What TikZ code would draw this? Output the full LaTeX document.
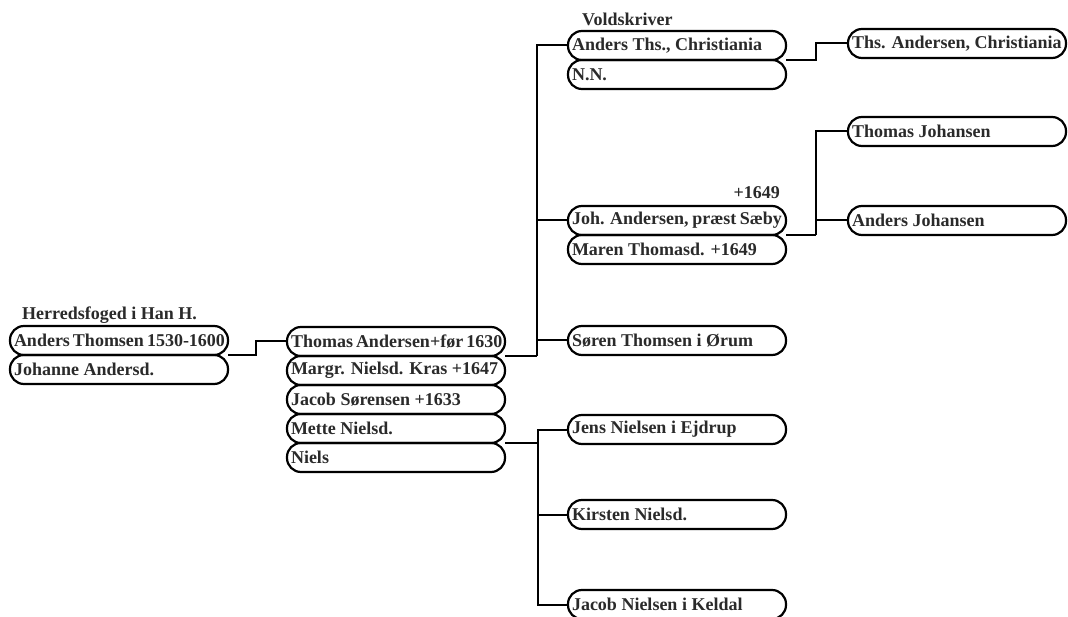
\documentclass[tikz,border=0pt]{standalone}
\usepackage{fontspec}
\setmainfont{Liberation Serif}
\usepackage{tikz}
\usetikzlibrary{positioning}
\definecolor{txtgray}{HTML}{2A2A2A}

\begin{document}
\begin{tikzpicture}[x=1pt, y=-1pt,
    person/.style={draw=black, line width=2.2pt, rounded corners=14pt, anchor=north west,
        minimum height=29pt, inner xsep=4pt, inner ysep=0pt, outer sep=0pt,
        execute at begin node={\hbox to 210pt\bgroup}, execute at end node={\hfil\egroup},
        text=txtgray, font=\fontsize{18}{20}\selectfont\bfseries},
    note/.style={inner sep=0pt, text=txtgray, font=\fontsize{18}{20}\selectfont\bfseries},
    link/.style={line width=2pt}]
    \useasboundingbox (0,0) rectangle (1068,617);

    % Coordinates
    \coordinate (g1) at (10,326);
    \coordinate (g2) at (287,327);
    \coordinate (c1) at (568,31);
    \coordinate (c2) at (568,206);
    \coordinate (c3) at (568,326);
    \coordinate (c4) at (568,415);
    \coordinate (c5) at (568,500);
    \coordinate (c6) at (568,590);
    \coordinate (d1) at (848,29);
    \coordinate (d2) at (848,117);
    \coordinate (d3) at (848,206);

    % First generation
    \node[note, anchor=west] (title1) at (22,315) {Herredsfoged i Han H.};
    \node[person] (AT) at (g1) {Anders Thomsen 1530-1600};
    \node[person, below=0pt of AT] (JA) {Johanne Andersd.};

    % Second generation
    \node[person] (TA) at (g2) {Thomas Andersen+før 1630};
    \node[person, below=0pt of TA] (MN) {Margr. Nielsd. Kras +1647};
    \node[person, below=0pt of MN] (JS) {Jacob Sørensen +1633};
    \node[person, below=0pt of JS] (MT) {Mette Nielsd.};
    \node[person, below=0pt of MT] (NI) {Niels};

    % Third generation
    \node[note, anchor=west] (title2) at (582,19) {Voldskriver};
    \node[person] (ATh) at (c1) {Anders Ths., Christiania};
    \node[person, below=0pt of ATh] (NN) {N.N.};
    \node[note, anchor=east] (title3) at (780,193) {+1649};
    \node[person] (JoA) at (c2) {Joh. Andersen, præst Sæby};
    \node[person, below=0pt of JoA] (MTh) {Maren Thomasd. +1649};
    \node[person] (ST) at (c3) {Søren Thomsen i Ørum};
    \node[person] (JN) at (c4) {Jens Nielsen i Ejdrup};
    \node[person] (KN) at (c5) {Kirsten Nielsd.};
    \node[person] (JNK) at (c6) {Jacob Nielsen i Keldal};

    % Fourth generation
    \node[person] (TAC) at (d1) {Ths. Andersen, Christiania};
    \node[person] (TJ) at (d2) {Thomas Johansen};
    \node[person] (AJ) at (d3) {Anders Johansen};

    % Lines
    \draw[link] (AT.south east) -- ++(28,0) |- (TA.west);

    \draw[link] (TA.south east) -- ++(32,0) coordinate (j1);
    \draw[link] (j1) |- (ATh.west);
    \draw[link] (j1) |- (JoA.west);
    \draw[link] (j1) |- (ST.west);

    \draw[link] (MT.south east) -- ++(33,0) coordinate (j2);
    \draw[link] (j2) |- (JN.west);
    \draw[link] (j2) |- (KN.west);
    \draw[link] (j2) |- (JNK.west);

    \draw[link] (ATh.south east) -- ++(30,0) |- (TAC.west);

    \draw[link] (JoA.south east) -- ++(30,0) coordinate (j3);
    \draw[link] (j3) |- (TJ.west);
    \draw[link] (j3) |- (AJ.west);
\end{tikzpicture}
\end{document}
